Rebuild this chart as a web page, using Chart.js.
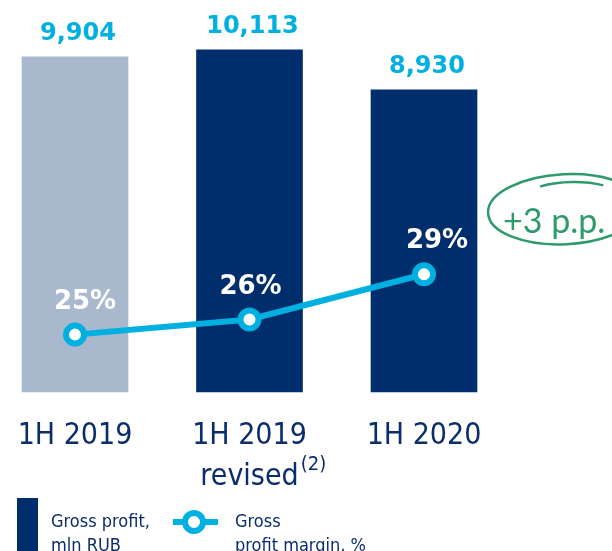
<!DOCTYPE html>
<html>
<head>
<meta charset="utf-8">
<script src="https://cdn.jsdelivr.net/npm/chart.js@4"></script>
<style>
  html, body { margin: 0; padding: 0; background: #fff; }
  #wrap { position: relative; width: 612px; height: 551px; overflow: hidden; }
  canvas { position: absolute; left: 0; top: 0; }
  .leg-txt { position: absolute; top: 509px; font: 18px/24px "DejaVu Sans Condensed", "DejaVu Sans", sans-serif; color: #0b2d6b; white-space: nowrap; }
  #sw-bar { position: absolute; left: 17px; top: 498px; width: 21px; height: 60px; background: #002d6b; }
  #sw-line { position: absolute; left: 173px; top: 519px; width: 45px; height: 6px; background: #00b0e0; }
  #sw-dot { position: absolute; left: 182px; top: 510px; width: 12px; height: 12px; border: 6px solid #00b0e0; border-radius: 50%; background: #fff; }
</style>
</head>
<body>
<div id="wrap">
  <canvas id="chart" width="612" height="551"></canvas>
  <div id="sw-bar"></div>
  <div class="leg-txt" style="left:51px">Gross profit,<br>mln RUB</div>
  <div id="sw-line"></div>
  <div id="sw-dot"></div>
  <div class="leg-txt" style="left:235px">Gross<br>profit margin, %</div>
</div>
<script>
const categories = [['1H 2019'], ['1H 2019', 'revised'], ['1H 2020']];
const footnotes = ['', '(2)', ''];
const grossProfit = [9904, 10113, 8930];
const grossMargin = [25, 26, 29];
const marginNote = '+3 p.p.';

const NAVY = '#002d6b';
const GREY = '#a8b8cd';
const CYAN = '#00b0e0';
const TEXT = '#0b2d6b';
const GREEN = '#2f9a6c';
const COND = '"DejaVu Sans Condensed", "DejaVu Sans", sans-serif';
// small horizontal nudges of the white % labels, as in the slide
const pctShift = [10, 1, 13];

// value labels, superscript footnote and the "+3 p.p." loop
const labelsPlugin = {
  id: 'labels',
  afterDatasetsDraw(chart) {
    const ctx = chart.ctx;
    const lineMeta = chart.getDatasetMeta(0);
    const barMeta = chart.getDatasetMeta(1);
    ctx.save();
    ctx.textAlign = 'center';
    ctx.textBaseline = 'alphabetic';
    ctx.font = 'bold 24px "DejaVu Sans", sans-serif';
    ctx.fillStyle = CYAN;
    barMeta.data.forEach((el, i) => {
      ctx.fillText(grossProfit[i].toLocaleString('en-US'), el.x + 3, el.y - 17);
    });
    ctx.font = 'bold 26px "DejaVu Sans", sans-serif';
    ctx.fillStyle = '#fff';
    lineMeta.data.forEach((el, i) => {
      ctx.fillText(grossMargin[i] + '%', el.x + pctShift[i], el.y - 26);
    });

    // footnote after "revised"
    const xs = chart.scales.x;
    footnotes.forEach((f, i) => {
      if (!f) return;
      ctx.font = '30px ' + COND;
      const lines = categories[i];
      const w = ctx.measureText(lines[lines.length - 1]).width;
      const px = xs.getPixelForValue(i) + w / 2 + 2;
      ctx.font = '20px ' + COND;
      ctx.textAlign = 'left';
      ctx.fillStyle = TEXT;
      ctx.fillText(f, px, xs.top + 78);
    });

    // annotation next to last point
    const last = lineMeta.data[grossMargin.length - 1];
    const cx = last.x + 141, cy = last.y - 65;
    ctx.strokeStyle = GREEN;
    ctx.lineWidth = 2.5;
    ctx.beginPath();
    ctx.ellipse(cx, cy, 77, 35, -0.05, 0, Math.PI * 2);
    ctx.stroke();
    ctx.beginPath();
    ctx.ellipse(cx + 4, cy + 4, 66, 31, -0.05, -2.0, -1.0);
    ctx.stroke();
    ctx.font = '34px Lato, "Open Sans", sans-serif';
    ctx.fillStyle = GREEN;
    ctx.textAlign = 'left';
    ctx.fillText(marginNote, last.x + 79, last.y - 41);
    ctx.restore();
  }
};

new Chart(document.getElementById('chart'), {
  type: 'bar',
  data: {
    labels: categories,
    datasets: [
      {
        type: 'line',
        label: 'Gross profit margin, %',
        data: grossMargin,
        yAxisID: 'y2',
        borderColor: CYAN,
        borderWidth: 6,
        pointRadius: 9,
        pointBorderWidth: 6,
        pointBackgroundColor: '#fff',
        pointBorderColor: CYAN,
        tension: 0,
        order: 0,
      },
      {
        label: 'Gross profit, mln RUB',
        data: grossProfit,
        yAxisID: 'y',
        backgroundColor: [GREY, NAVY, NAVY],
        barThickness: 106,
        clip: false,
        order: 1,
      }
    ]
  },
  options: {
    responsive: false,
    animation: false,
    layout: { autoPadding: false, padding: { left: 75, right: 188, top: 10, bottom: 0 } },
    plugins: {
      legend: { display: false },
      tooltip: { enabled: false }
    },
    scales: {
      x: {
        offset: false,
        grid: { display: false, drawTicks: false },
        border: { display: false },
        ticks: {
          color: TEXT,
          font: { family: COND, size: 30, lineHeight: 1.35 },
          padding: 24,
          maxRotation: 0,
          autoSkip: false
        },
        afterFit(s) { s.height = 159; s.paddingLeft = 0; s.paddingRight = 0; }
      },
      y: { display: false, min: 0, max: 11290 },
      y2: { display: false, position: 'right', min: 21.2, max: 46.5 }
    }
  },
  plugins: [labelsPlugin]
});
</script>
</body>
</html>
